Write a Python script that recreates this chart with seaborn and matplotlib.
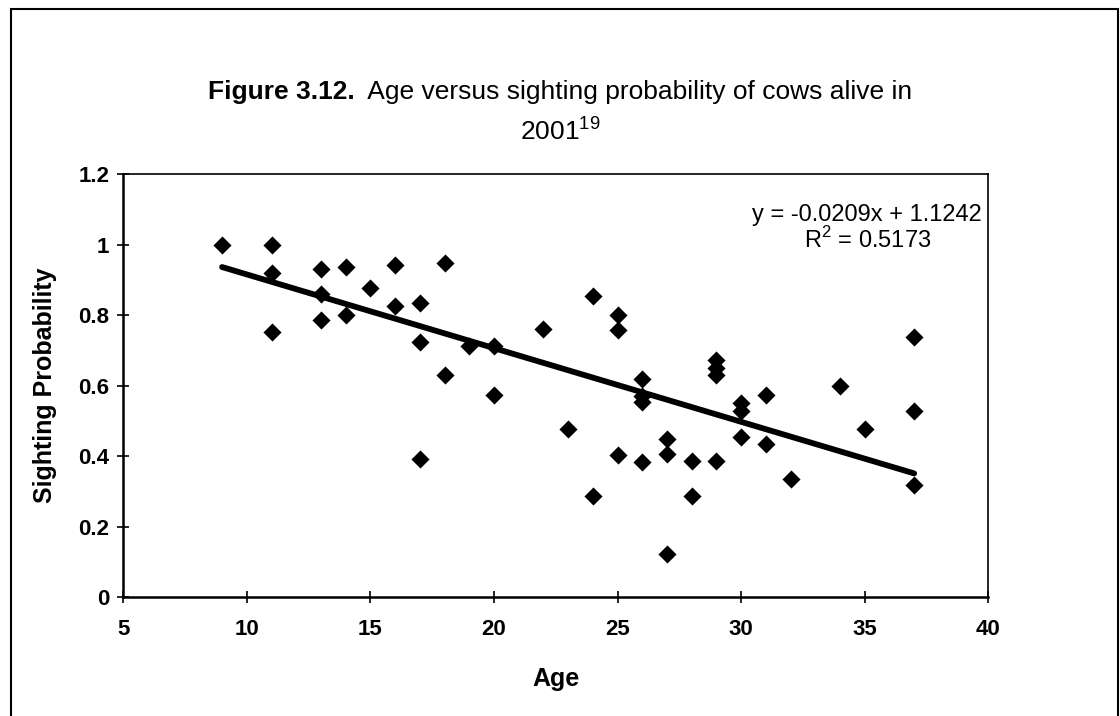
import matplotlib
matplotlib.use("Agg")
import matplotlib.pyplot as plt
import seaborn as sns
import pandas as pd
from matplotlib.patches import Rectangle

# values
age = [9, 11, 11, 11, 13, 13, 13, 14, 14, 15, 16, 16, 17, 17, 17, 18, 18, 19,
       20, 20, 22, 23, 24, 24, 25, 25, 25, 26, 26, 26, 26, 27, 27, 27, 28, 28,
       29, 29, 29, 29, 30, 30, 30, 31, 31, 32, 34, 35, 37, 37, 37]
sighting = [1.0, 1.0, 0.92, 0.753, 0.93, 0.86, 0.786, 0.935, 0.80, 0.877,
            0.941, 0.826, 0.835, 0.724, 0.393, 0.948, 0.631, 0.712, 0.713,
            0.573, 0.759, 0.477, 0.853, 0.288, 0.800, 0.758, 0.404, 0.620,
            0.570, 0.552, 0.382, 0.449, 0.407, 0.122, 0.386, 0.288, 0.673,
            0.651, 0.630, 0.385, 0.550, 0.527, 0.453, 0.572, 0.433, 0.334,
            0.600, 0.477, 0.737, 0.527, 0.317]
# linear trendline as printed on the chart
slope = -0.0209
intercept = 1.1242
r2 = 0.5173
x_ticks = [5, 10, 15, 20, 25, 30, 35, 40]
y_ticks = [0, 0.2, 0.4, 0.6, 0.8, 1.0, 1.2]
y_tick_labels = ["0", "0.2", "0.4", "0.6", "0.8", "1", "1.2"]

df = pd.DataFrame({"Age": age, "Sighting Probability": sighting})
trend = pd.DataFrame({"Age": [min(age), max(age)]})
trend["Fit"] = intercept + slope * trend["Age"]

sns.set_style("ticks")
plt.rcParams["font.family"] = ["Liberation Sans", "DejaVu Sans"]
plt.rcParams["mathtext.fontset"] = "custom"
plt.rcParams["mathtext.rm"] = "Liberation Sans"
plt.rcParams["mathtext.bf"] = "Liberation Sans:bold"
plt.rcParams["text.color"] = "black"
plt.rcParams["axes.labelcolor"] = "black"
plt.rcParams["xtick.color"] = "black"
plt.rcParams["ytick.color"] = "black"

fig = plt.figure(figsize=(11.2, 7.16), dpi=100)
ax = fig.add_axes([0.110, 0.166, 0.7724, 0.591])

sns.scatterplot(data=df, x="Age", y="Sighting Probability", ax=ax,
                marker="D", s=85, color="black", linewidth=0, zorder=3)
sns.lineplot(data=trend, x="Age", y="Fit", ax=ax, color="black", lw=4.2,
             zorder=2)

ax.set_xlim(5, 40)
ax.set_ylim(0, 1.2)
ax.set_xticks(x_ticks)
ax.set_xticklabels([str(t) for t in x_ticks], fontsize=16, fontweight="bold")
ax.set_yticks(y_ticks)
ax.set_yticklabels(y_tick_labels, fontsize=16, fontweight="bold")
ax.tick_params(direction="inout", length=8, width=1.2, colors="black")
ax.tick_params(axis="x", pad=12)
ax.tick_params(axis="y", pad=6)
for side in ["left", "bottom"]:
    ax.spines[side].set_linewidth(1.8)
for side in ["top", "right"]:
    ax.spines[side].set_visible(True)
    ax.spines[side].set_linewidth(1.2)
for sp in ax.spines.values():
    sp.set_color("black")

ax.set_xlabel("Age", fontsize=18, fontweight="bold")
ax.set_ylabel("Sighting Probability", fontsize=18, fontweight="bold")
ax.xaxis.set_label_coords(0.5, -0.165)
ax.yaxis.set_label_coords(-0.076, 0.5)

# trendline label, right-aligned just inside the plot border
fig.canvas.draw()
renderer = fig.canvas.get_renderer()
eq = ax.text(0.993, 1.083, f"y = {slope:.4f}x + {intercept:.4f}",
             transform=ax.get_yaxis_transform(), ha="right", va="center",
             fontsize=17)
bb = eq.get_window_extent(renderer)
eq_center = ax.transAxes.inverted().transform(((bb.x0 + bb.x1) / 2, 0))[0]
ax.text(eq_center, 1.012, f"R$^2$ = {r2:.4f}",
        transform=ax.get_yaxis_transform(), ha="center", va="center",
        fontsize=17)

# title: bold figure number followed by regular text, centred as one line
t_bold = fig.text(0, 0.872, "Figure 3.12.", fontsize=19, fontweight="bold",
                  va="center", ha="left")
t_rest = fig.text(0, 0.872, "  Age versus sighting probability of cows alive in",
                  fontsize=19, va="center", ha="left")
w_bold = t_bold.get_window_extent(renderer).width / fig.bbox.width
w_rest = t_rest.get_window_extent(renderer).width / fig.bbox.width
x0 = 0.5 - (w_bold + w_rest) / 2
t_bold.set_x(x0)
t_rest.set_x(x0 + w_bold)
fig.text(0.5, 0.818, "2001$^{19}$", fontsize=19, ha="center", va="center")

# outer chart border
fig.add_artist(Rectangle((10.5 / 1120, -0.05), (1118 - 10.5) / 1120, 1.05 - 9.5 / 716,
                         transform=fig.transFigure, fill=False,
                         edgecolor="black", lw=1.5))

fig.savefig("out.png", dpi=100)
